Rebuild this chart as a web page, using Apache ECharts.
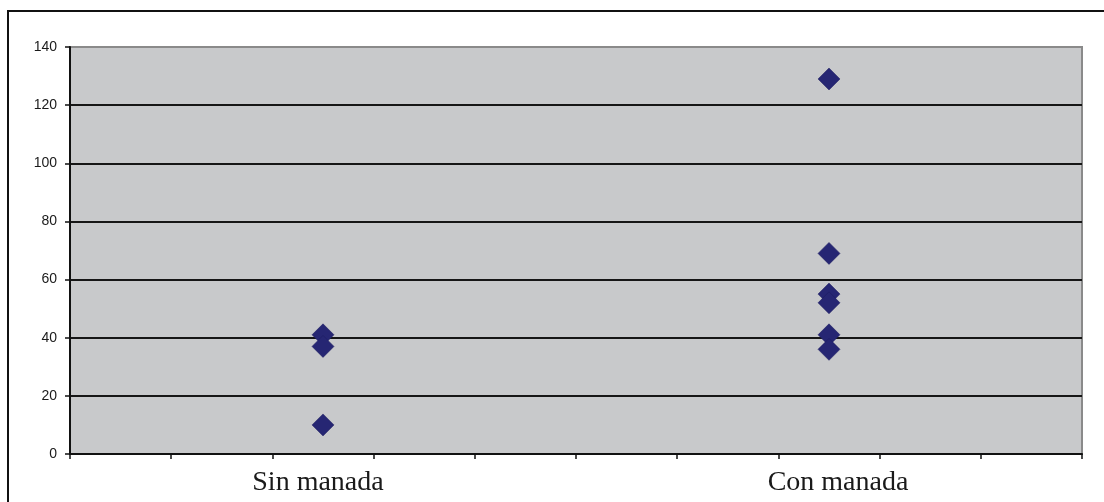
<!DOCTYPE html>
<html>
<head>
<meta charset="utf-8">
<style>
  html, body { margin: 0; padding: 0; background: #ffffff; }
  #chart { width: 1104px; height: 502px; }
</style>
<script src="https://cdn.jsdelivr.net/npm/echarts@6/dist/echarts.min.js"></script>
</head>
<body>
<div id="chart"></div>
<script>
// Groups shown along the horizontal axis
const categories = ['Sin manada', 'Con manada'];
// Observed values for each group
const sinManada = [41, 37, 10];
const conManada = [129, 69, 55, 52, 41, 36];
// Vertical scale
const yMin = 0, yMax = 140, yStep = 20;
// Tick scale along the bottom edge (ten equal divisions)
const xTickMin = 0, xTickMax = 10, xTickStep = 1;

const points = [];
sinManada.forEach(v => points.push([categories[0], v]));
conManada.forEach(v => points.push([categories[1], v]));

const chart = echarts.init(document.getElementById('chart'), null, { renderer: 'canvas' });

const labelFont = {
  color: '#1a1a1a',
  fontFamily: '"Liberation Serif", "Times New Roman", serif',
  fontSize: 28
};

chart.setOption({
  animation: false,
  backgroundColor: '#ffffff',
  graphic: [{
    type: 'rect',
    shape: { x: 8, y: 11, width: 1200, height: 600 },
    style: { fill: 'none', stroke: '#111111', lineWidth: 2 },
    silent: true,
    z: 0
  }],
  grid: {
    left: 70, top: 47, right: 22, bottom: 48,
    show: true,
    backgroundColor: '#c8c9cb',
    borderColor: '#8a8a8a',
    borderWidth: 2
  },
  xAxis: [
    {
      type: 'value',
      min: xTickMin, max: xTickMax, interval: xTickStep,
      position: 'bottom',
      axisLine: { show: true, onZero: false, lineStyle: { color: '#111111', width: 2 } },
      axisTick: { show: true, inside: false, length: 5, lineStyle: { color: '#111111', width: 1.5 } },
      axisLabel: { show: false },
      splitLine: { show: false }
    },
    {
      type: 'category',
      data: categories,
      boundaryGap: true,
      position: 'bottom',
      axisLine: { show: false },
      axisTick: { show: false },
      axisLabel: {
        show: true,
        margin: 15,
        formatter: (v, i) => (i === 0 ? '{a|' + v + '}' : '{b|' + v + '}'),
        rich: {
          a: Object.assign({ padding: [0, 10, 0, 0] }, labelFont),
          b: Object.assign({ padding: [0, 0, 0, 18] }, labelFont)
        }
      },
      splitLine: { show: false }
    }
  ],
  yAxis: {
    type: 'value',
    min: yMin, max: yMax, interval: yStep,
    axisLine: { show: true, lineStyle: { color: '#111111', width: 2 } },
    axisTick: { show: true, inside: false, length: 5, lineStyle: { color: '#111111', width: 1.5 } },
    axisLabel: {
      margin: 13,
      color: '#1a1a1a',
      fontFamily: '"Liberation Sans", Arial, sans-serif',
      fontSize: 14
    },
    splitLine: {
      show: true,
      showMinLine: false,
      showMaxLine: false,
      lineStyle: { color: '#161616', width: 1.8 }
    }
  },
  series: [{
    type: 'scatter',
    xAxisIndex: 1,
    data: points,
    symbol: 'diamond',
    symbolSize: 22,
    itemStyle: { color: '#262673', borderColor: '#1c1c5e', borderWidth: 0.5, opacity: 1 },
    z: 5
  }]
});
</script>
</body>
</html>
